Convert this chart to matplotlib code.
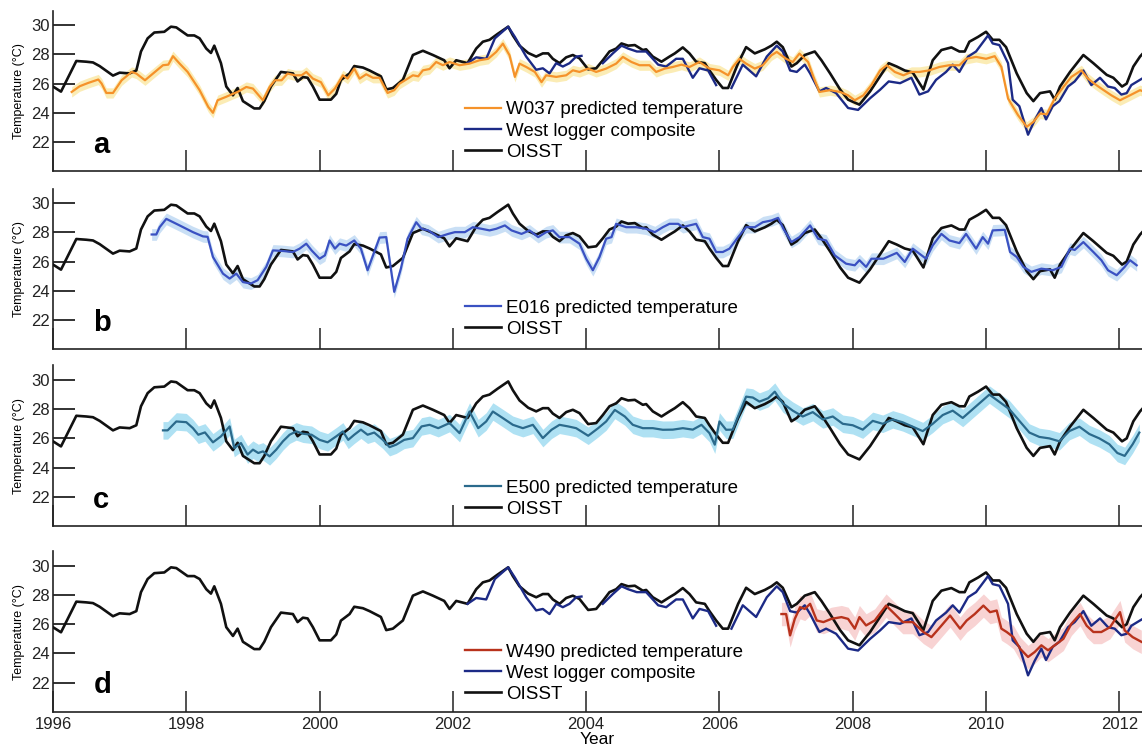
import matplotlib
matplotlib.use("Agg")
import matplotlib.pyplot as plt
import numpy as np

plt.rcParams["font.family"] = ["Liberation Sans", "DejaVu Sans"]

# OISST monthly-ish series (shared by every panel)
oisst_year = [
    1996.00, 1996.12, 1996.35, 1996.50, 1996.60, 1996.70, 1996.90, 1997.00, 1997.15, 1997.25,
    1997.32, 1997.42, 1997.52, 1997.67, 1997.77, 1997.85, 1998.02, 1998.12, 1998.20, 1998.30,
    1998.37, 1998.42, 1998.52, 1998.60, 1998.70, 1998.77, 1998.85, 1999.02, 1999.10, 1999.17,
    1999.27, 1999.42, 1999.60, 1999.67, 1999.75, 1999.82, 1999.90, 2000.00, 2000.17, 2000.25,
    2000.32, 2000.45, 2000.52, 2000.65, 2000.75, 2000.92, 2001.00, 2001.10, 2001.25, 2001.40,
    2001.55, 2001.70, 2001.87, 2001.95, 2002.05, 2002.22, 2002.35, 2002.45, 2002.55, 2002.67,
    2002.83, 2002.90, 2003.00, 2003.13, 2003.25, 2003.35, 2003.43, 2003.50, 2003.60, 2003.70,
    2003.80, 2003.90, 2004.03, 2004.15, 2004.25, 2004.35, 2004.45, 2004.53, 2004.63, 2004.73,
    2004.85, 2004.90, 2005.00, 2005.13, 2005.25, 2005.33, 2005.45, 2005.55, 2005.65, 2005.78,
    2005.85, 2005.95, 2006.05, 2006.13, 2006.28, 2006.40, 2006.53, 2006.68, 2006.78, 2006.86,
    2006.95, 2007.08, 2007.16, 2007.28, 2007.43, 2007.53, 2007.66, 2007.81, 2007.93, 2008.10,
    2008.26, 2008.41, 2008.54, 2008.66, 2008.78, 2008.90, 2009.06, 2009.20, 2009.33, 2009.48,
    2009.60, 2009.68, 2009.75, 2009.88, 2010.00, 2010.10, 2010.20, 2010.30, 2010.46, 2010.61,
    2010.71, 2010.81, 2010.96, 2011.03, 2011.11, 2011.26, 2011.46, 2011.61, 2011.81, 2011.91,
    2012.04, 2012.11, 2012.21, 2012.31, 2012.40,
]
oisst_temp = [
    25.8, 25.45, 27.55, 27.5, 27.45, 27.2, 26.55, 26.75, 26.7, 26.9,
    28.2, 29.1, 29.5, 29.55, 29.9, 29.85, 29.3, 29.3, 29.1, 28.4,
    28.1, 28.6, 27.4, 25.8, 25.2, 25.7, 24.8, 24.3, 24.3, 24.8,
    25.8, 26.8, 26.7, 26.15, 26.45, 26.4, 25.8, 24.9, 24.9, 25.3,
    26.25, 26.7, 27.2, 27.1, 26.9, 26.5, 25.6, 25.7, 26.26, 27.96,
    28.25, 27.96, 27.6, 27.05, 27.6, 27.4, 28.4, 28.87, 29.0, 29.4,
    29.9, 29.3, 28.6, 28.1, 27.85, 28.07, 28.07, 27.7, 27.4, 27.8,
    27.96, 27.73, 26.98, 27.05, 27.6, 28.2, 28.4, 28.75, 28.6, 28.64,
    28.3, 28.35, 27.85, 27.5, 27.85, 28.07, 28.48, 28.07, 27.5, 27.4,
    26.9, 26.26, 25.7, 25.7, 27.4, 28.5, 28.07, 28.35, 28.6, 28.87,
    28.5, 27.17, 27.4, 27.96, 28.2, 27.6, 26.7, 25.6, 24.9, 24.56,
    25.47, 26.5, 27.4, 27.17, 26.9, 26.76, 25.6, 27.6, 28.3, 28.48,
    28.2, 28.2, 28.87, 29.2, 29.55, 29.0, 29.0, 28.5, 26.7, 25.35,
    24.8, 25.35, 25.47, 24.9, 25.8, 26.8, 27.96, 27.4, 26.6, 26.4,
    25.8, 26.0, 27.17, 27.85, 28.3,
]

# West logger composite (NaN marks gaps in the record)
west_year = [
    2002.22, 2002.35, 2002.50, 2002.63, 2002.83, 2002.93, 2003.10, 2003.25, 2003.35, 2003.45,
    2003.55, 2003.65, 2003.75, 2003.85, 2003.93, 2004.10, 2004.25, 2004.40, 2004.53, 2004.63,
    2004.76, 2004.90, 2005.08, 2005.20, 2005.35, 2005.45, 2005.60, 2005.70, 2005.83, 2005.95,
    2006.06, 2006.18, 2006.35, 2006.55, 2006.71, 2006.86, 2006.95, 2007.06, 2007.16, 2007.28,
    2007.36, 2007.50, 2007.60, 2007.75, 2007.93, 2008.08, 2008.26, 2008.41, 2008.54, 2008.71,
    2008.88, 2009.00, 2009.13, 2009.25, 2009.40, 2009.50, 2009.60, 2009.73, 2009.85, 2010.03,
    2010.10, 2010.20, 2010.33, 2010.40, 2010.50, 2010.63, 2010.73, 2010.83, 2010.90, 2011.00,
    2011.10, 2011.23, 2011.33, 2011.46, 2011.58, 2011.71, 2011.83, 2011.93, 2012.03, 2012.11,
    2012.18, 2012.31, 2012.40,
]
west_temp = [
    27.4, 27.8, 27.7, 29.1, 29.9, 29.2, 27.85, 26.95, 27.05, 26.7,
    27.4, 27.17, 27.4, 27.85, 27.9, np.nan, 27.4, 28.07, 28.6, 28.4,
    28.2, 28.2, 27.3, 27.17, 27.7, 27.7, 26.4, 27.05, 26.9, 25.9,
    np.nan, 25.7, 27.3, 26.5, 27.85, 28.6, 28.2, 26.9, 26.8, 27.3,
    26.7, 25.47, 25.7, 25.35, 24.33, 24.2, 25.0, 25.58, 26.15, 26.03,
    26.4, 25.25, 25.47, 26.26, 26.8, 27.3, 26.8, 27.85, 28.2, 29.3,
    28.75, 28.64, 27.4, 24.9, 24.45, 22.5, 23.5, 24.33, 23.55, 24.45,
    24.8, 25.8, 26.15, 26.9, 25.9, 26.4, 25.8, 25.7, 25.25, 25.35,
    25.9, 26.26, 26.5,
]

# W037 coral proxy
w037_year = [
    1996.28, 1996.40, 1996.53, 1996.68, 1996.73, 1996.80, 1996.90, 1997.03, 1997.18, 1997.25,
    1997.38, 1997.50, 1997.65, 1997.73, 1997.80, 1997.90, 1998.02, 1998.20, 1998.33, 1998.40,
    1998.47, 1998.60, 1998.70, 1998.77, 1998.90, 1999.00, 1999.15, 1999.25, 1999.33, 1999.43,
    1999.52, 1999.63, 1999.73, 1999.80, 1999.90, 2000.02, 2000.13, 2000.23, 2000.35, 2000.42,
    2000.52, 2000.60, 2000.70, 2000.80, 2000.90, 2001.02, 2001.12, 2001.20, 2001.30, 2001.40,
    2001.48, 2001.55, 2001.65, 2001.75, 2001.85, 2001.95, 2002.10, 2002.25, 2002.40, 2002.53,
    2002.65, 2002.75, 2002.85, 2002.93, 2003.00, 2003.10, 2003.23, 2003.33, 2003.40, 2003.55,
    2003.70, 2003.80, 2003.90, 2004.03, 2004.15, 2004.30, 2004.45, 2004.55, 2004.68, 2004.80,
    2004.95, 2005.05, 2005.18, 2005.30, 2005.43, 2005.55, 2005.70, 2005.85, 2006.00, 2006.13,
    2006.20, 2006.30, 2006.40, 2006.53, 2006.65, 2006.78, 2006.86, 2007.00, 2007.10, 2007.20,
    2007.33, 2007.41, 2007.50, 2007.66, 2007.81, 2007.93, 2008.03, 2008.16, 2008.28, 2008.41,
    2008.51, 2008.63, 2008.76, 2008.88, 2009.00, 2009.15, 2009.30, 2009.45, 2009.60, 2009.70,
    2009.85, 2010.00, 2010.13, 2010.23, 2010.33, 2010.48, 2010.61, 2010.71, 2010.81, 2010.91,
    2011.03, 2011.16, 2011.28, 2011.43, 2011.53, 2011.63, 2011.73, 2011.88, 2012.01, 2012.16,
    2012.31, 2012.40,
]
w037_temp = [
    25.43, 25.82, 26.05, 26.28, 26.0, 25.36, 25.36, 26.23, 26.8, 26.69,
    26.23, 26.69, 27.26, 27.3, 27.88, 27.37, 26.8, 25.55, 24.4, 24.0,
    24.86, 25.1, 25.3, 25.43, 25.77, 25.66, 24.86, 25.77, 26.23, 26.23,
    26.69, 26.57, 26.57, 26.8, 26.34, 26.1, 25.2, 25.66, 26.57, 26.34,
    27.03, 26.34, 26.64, 26.4, 26.4, 25.36, 25.55, 26.0, 26.28, 26.57,
    26.5, 26.91, 27.0, 27.48, 27.26, 27.48, 27.26, 27.37, 27.6, 27.7,
    28.17, 28.74, 27.94, 26.46, 27.37, 27.14, 26.8, 26.1, 26.57, 26.46,
    26.57, 26.91, 26.8, 27.03, 26.8, 27.03, 27.37, 27.83, 27.48, 27.26,
    27.26, 26.8, 27.03, 27.14, 27.3, 27.14, 27.48, 27.03, 26.91, 26.57,
    27.14, 27.7, 27.37, 27.03, 27.26, 27.94, 28.17, 27.7, 27.48, 28.06,
    27.48, 26.46, 25.43, 25.55, 25.43, 25.2, 24.86, 25.2, 25.9, 26.9,
    27.26, 26.8, 26.57, 26.8, 26.8, 26.91, 27.14, 27.26, 27.26, 27.7,
    27.83, 27.7, 27.88, 27.14, 24.98, 23.84, 23.04, 23.38, 23.95, 23.9,
    24.97, 25.77, 26.46, 26.91, 26.34, 25.98, 25.66, 25.2, 24.86, 25.2,
    25.55, 25.4,
]

# E016 coral proxy
e016_year = [
    1997.48, 1997.55, 1997.60, 1997.70, 1997.90, 1998.10, 1998.25, 1998.32, 1998.40, 1998.55,
    1998.65, 1998.75, 1998.85, 1998.97, 1999.07, 1999.20, 1999.30, 1999.45, 1999.60, 1999.70,
    1999.80, 1999.88, 2000.00, 2000.08, 2000.15, 2000.23, 2000.30, 2000.40, 2000.52, 2000.62,
    2000.72, 2000.82, 2000.90, 2001.00, 2001.12, 2001.22, 2001.32, 2001.45, 2001.53, 2001.63,
    2001.78, 2001.93, 2002.03, 2002.18, 2002.30, 2002.43, 2002.55, 2002.65, 2002.78, 2002.88,
    2003.03, 2003.15, 2003.28, 2003.40, 2003.50, 2003.60, 2003.75, 2003.90, 2004.00, 2004.10,
    2004.20, 2004.30, 2004.38, 2004.45, 2004.60, 2004.75, 2004.90, 2005.03, 2005.15, 2005.25,
    2005.38, 2005.45, 2005.55, 2005.65, 2005.75, 2005.85, 2005.95, 2006.05, 2006.15, 2006.28,
    2006.40, 2006.53, 2006.65, 2006.78, 2006.88, 2006.96, 2007.08, 2007.20, 2007.36, 2007.48,
    2007.60, 2007.73, 2007.90, 2008.03, 2008.10, 2008.20, 2008.28, 2008.46, 2008.66, 2008.78,
    2008.90, 2009.10, 2009.20, 2009.33, 2009.45, 2009.60, 2009.70, 2009.85, 2009.95, 2010.03,
    2010.10, 2010.28, 2010.36, 2010.46, 2010.56, 2010.68, 2010.83, 2011.00, 2011.13, 2011.26,
    2011.33, 2011.46, 2011.61, 2011.73, 2011.83, 2011.96, 2012.08, 2012.16, 2012.26,
]
e016_temp = [
    27.86, 27.86, 28.36, 28.93, 28.48, 28.02, 27.73, 27.7, 26.32, 25.18,
    24.84, 25.18, 24.6, 24.5, 24.73, 25.64, 26.77, 26.73, 26.66, 26.89,
    27.23, 26.77, 26.2, 26.43, 27.45, 26.89, 27.23, 27.1, 27.45, 26.89,
    25.41, 26.66, 27.65, 27.68, 23.93, 25.52, 27.57, 28.7, 28.25, 28.14,
    27.68, 27.9, 28.02, 28.02, 28.36, 28.25, 28.14, 28.25, 28.48, 28.14,
    27.9, 28.14, 27.68, 28.02, 28.14, 27.68, 27.68, 27.23, 26.2, 25.41,
    26.32, 27.57, 27.68, 28.59, 28.36, 28.36, 28.25, 28.02, 28.36, 28.59,
    28.59, 28.36, 28.48, 28.59, 27.68, 27.57, 26.66, 26.66, 26.89, 27.68,
    28.36, 28.36, 28.7, 28.82, 29.0, 28.25, 27.34, 27.68, 28.48, 27.57,
    27.45, 26.43, 25.86, 25.75, 26.1, 25.64, 26.2, 26.2, 26.6, 25.98,
    26.89, 26.2, 27.11, 27.9, 27.45, 27.27, 27.9, 26.89, 27.68, 27.23,
    28.14, 28.18, 26.66, 26.32, 25.64, 25.3, 25.52, 25.41, 25.64, 26.89,
    26.8, 27.34, 26.66, 26.1, 25.41, 25.07, 25.64, 26.1, 25.75,
]

# E500 coral proxy
e500_year = [
    1997.65, 1997.72, 1997.85, 1998.00, 1998.10, 1998.18, 1998.28, 1998.40, 1998.52, 1998.65,
    1998.72, 1998.82, 1998.92, 1999.00, 1999.08, 1999.15, 1999.25, 1999.35, 1999.45, 1999.55,
    1999.65, 1999.75, 1999.88, 2000.00, 2000.12, 2000.25, 2000.35, 2000.43, 2000.52, 2000.62,
    2000.72, 2000.82, 2000.95, 2001.05, 2001.15, 2001.27, 2001.40, 2001.53, 2001.65, 2001.78,
    2001.95, 2002.10, 2002.25, 2002.38, 2002.50, 2002.60, 2002.75, 2002.90, 2003.05, 2003.20,
    2003.35, 2003.48, 2003.60, 2003.73, 2003.85, 2004.03, 2004.18, 2004.30, 2004.43, 2004.58,
    2004.70, 2004.85, 2005.00, 2005.15, 2005.30, 2005.45, 2005.60, 2005.73, 2005.85, 2005.93,
    2006.00, 2006.10, 2006.20, 2006.30, 2006.40, 2006.50, 2006.60, 2006.73, 2006.83, 2006.95,
    2007.10, 2007.25, 2007.40, 2007.55, 2007.70, 2007.85, 2008.00, 2008.15, 2008.30, 2008.45,
    2008.60, 2008.75, 2008.90, 2009.05, 2009.20, 2009.35, 2009.50, 2009.65, 2009.80, 2009.95,
    2010.05, 2010.20, 2010.35, 2010.50, 2010.65, 2010.80, 2010.95, 2011.10, 2011.25, 2011.40,
    2011.55, 2011.70, 2011.85, 2011.97, 2012.08, 2012.20, 2012.30,
]
e500_temp = [
    26.55, 26.55, 27.16, 27.11, 26.7, 26.25, 26.41, 25.73, 26.14, 26.82,
    25.34, 25.68, 24.89, 25.23, 25.0, 25.11, 24.77, 25.23, 25.8, 26.25,
    26.48, 26.32, 26.25, 25.9, 25.73, 26.14, 26.48, 25.9, 26.25, 26.6,
    26.25, 26.4, 25.9, 25.4, 25.57, 25.9, 26.02, 26.82, 26.93, 26.7,
    27.05, 26.36, 27.84, 26.7, 27.16, 27.84, 27.39, 26.93, 26.7, 26.93,
    26.02, 26.59, 26.93, 26.82, 26.7, 26.18, 26.7, 27.16, 27.95, 27.5,
    26.93, 26.7, 26.7, 26.59, 26.6, 26.7, 26.6, 26.93, 26.36, 25.57,
    27.16, 26.59, 26.6, 27.73, 28.86, 28.8, 28.52, 28.75, 29.2, 28.4,
    27.9, 27.5, 27.8, 27.3, 27.5, 27.0, 26.9, 26.6, 27.2, 27.0,
    27.3, 27.1, 26.8, 26.5, 27.0, 27.6, 27.9, 27.4, 28.0, 28.6,
    29.0, 28.5, 28.0, 27.2, 26.4, 26.1, 26.0, 25.8, 26.5, 26.8,
    26.3, 26.0, 25.6, 25.0, 24.8, 25.6, 26.4,
]

# W490 coral proxy
w490_year = [
    2006.93, 2007.00, 2007.06, 2007.13, 2007.21, 2007.28, 2007.36, 2007.46, 2007.56, 2007.68,
    2007.83, 2007.93, 2008.03, 2008.10, 2008.20, 2008.33, 2008.50, 2008.63, 2008.75, 2008.90,
    2009.06, 2009.18, 2009.31, 2009.46, 2009.61, 2009.71, 2009.83, 2009.96, 2010.06, 2010.16,
    2010.23, 2010.31, 2010.41, 2010.51, 2010.63, 2010.73, 2010.83, 2010.93, 2011.03, 2011.16,
    2011.28, 2011.41, 2011.51, 2011.61, 2011.73, 2011.86, 2012.01, 2012.08, 2012.20, 2012.33,
]
w490_temp = [
    26.7, 26.7, 25.24, 26.37, 27.17, 27.05, 27.4, 26.26, 26.15, 26.37,
    26.49, 26.37, 25.7, 26.49, 25.92, 26.26, 27.28, 26.7, 26.15, 26.15,
    25.47, 25.12, 25.8, 26.6, 25.7, 26.26, 26.7, 27.28, 26.83, 26.94,
    25.7, 25.47, 25.12, 24.33, 23.76, 24.1, 24.56, 24.22, 24.56, 25.0,
    26.03, 26.7, 25.9, 25.47, 25.47, 25.8, 26.83, 25.58, 25.12, 24.8,
]

# half-width of the shaded uncertainty envelope for each proxy (deg C)
w037_err = 0.35
e016_err = 0.4
e500_err = 0.6
w490_err = 0.8

YEAR_TICKS = list(range(1996, 2013, 2))
TEMP_TICKS = [22, 24, 26, 28, 30]

C_OISST = "#111111"
C_WEST = "#1c2a86"

fig = plt.figure(figsize=(11.42, 7.48), dpi=100)
left = 53 / 1142
width = 1 - left
height = 160.6 / 748
bottoms = [0.7711, 0.5331, 0.2968, 0.0483]
axes = [fig.add_axes([left, b, width, height]) for b in bottoms]


def style_axis(ax, letter, show_xlabels):
    ax.set_xlim(1996, 2012.34)
    ax.set_ylim(20, 31)
    ax.set_xticks(YEAR_TICKS)
    ax.set_yticks(TEMP_TICKS)
    for side in ("top", "right"):
        ax.spines[side].set_visible(False)
    for side in ("left", "bottom"):
        ax.spines[side].set_linewidth(1.2)
        ax.spines[side].set_color("#222222")
    ax.tick_params(axis="x", direction="in", length=15, width=1.1, pad=3.5,
                   labelsize=12, colors="#222222")
    ax.tick_params(axis="y", direction="in", length=16, width=1.3, pad=2,
                   labelsize=12, colors="#222222")
    if not show_xlabels:
        ax.tick_params(axis="x", labelbottom=False)
    ax.set_ylabel("Temperature (\u00b0C)", fontsize=9, labelpad=5)
    ax.text(0.037, 0.115, letter, transform=ax.transAxes, fontsize=21,
            fontweight="bold", ha="left", va="baseline")


def add_legend(ax, handles, labels, y0):
    ax.legend(handles, labels, loc="lower left", bbox_to_anchor=(0.378, y0),
              frameon=False, fontsize=13.5, handlelength=1.95, handletextpad=0.28,
              labelspacing=0.22, borderpad=0, borderaxespad=0)


# panel a
ax = axes[0]
ax.fill_between(w037_year, np.array(w037_temp) - w037_err, np.array(w037_temp) + w037_err,
                color="#fbe9a8", lw=0, alpha=0.85)
l_oi, = ax.plot(oisst_year, oisst_temp, color=C_OISST, lw=1.9, zorder=3)
l_west, = ax.plot(west_year, west_temp, color=C_WEST, lw=1.7, zorder=4)
l_w037, = ax.plot(w037_year, w037_temp, color="#f5922a", lw=1.6, zorder=5)
style_axis(ax, "a", False)
add_legend(ax, [l_w037, l_west, l_oi],
           ["W037 predicted temperature", "West logger composite", "OISST"], 0.065)

# panel b
ax = axes[1]
ax.fill_between(e016_year, np.array(e016_temp) - e016_err, np.array(e016_temp) + e016_err,
                color="#c4dcf4", lw=0, alpha=0.9)
l_oi, = ax.plot(oisst_year, oisst_temp, color=C_OISST, lw=1.9, zorder=3)
l_e016, = ax.plot(e016_year, e016_temp, color="#3a51c2", lw=1.6, zorder=4)
style_axis(ax, "b", False)
add_legend(ax, [l_e016, l_oi], ["E016 predicted temperature", "OISST"], 0.07)

# panel c
ax = axes[2]
ax.fill_between(e500_year, np.array(e500_temp) - e500_err, np.array(e500_temp) + e500_err,
                color="#a6def2", lw=0, alpha=0.9)
l_oi, = ax.plot(oisst_year, oisst_temp, color=C_OISST, lw=1.9, zorder=3)
l_e500, = ax.plot(e500_year, e500_temp, color="#2b6a8c", lw=1.6, zorder=4)
style_axis(ax, "c", False)
add_legend(ax, [l_e500, l_oi], ["E500 predicted temperature", "OISST"], 0.05)

# panel d
ax = axes[3]
ax.fill_between(w490_year, np.array(w490_temp) - w490_err, np.array(w490_temp) + w490_err,
                color="#f7cccc", lw=0, alpha=0.85)
l_oi, = ax.plot(oisst_year, oisst_temp, color=C_OISST, lw=1.9, zorder=3)
l_west, = ax.plot(west_year, west_temp, color=C_WEST, lw=1.7, zorder=4)
l_w490, = ax.plot(w490_year, w490_temp, color="#b8321c", lw=1.7, zorder=5)
style_axis(ax, "d", True)
add_legend(ax, [l_w490, l_west, l_oi],
           ["W490 predicted temperature", "West logger composite", "OISST"], 0.055)
ax.set_xlabel("Year", fontsize=12.5, labelpad=0)

fig.savefig("out.png", dpi=100)
